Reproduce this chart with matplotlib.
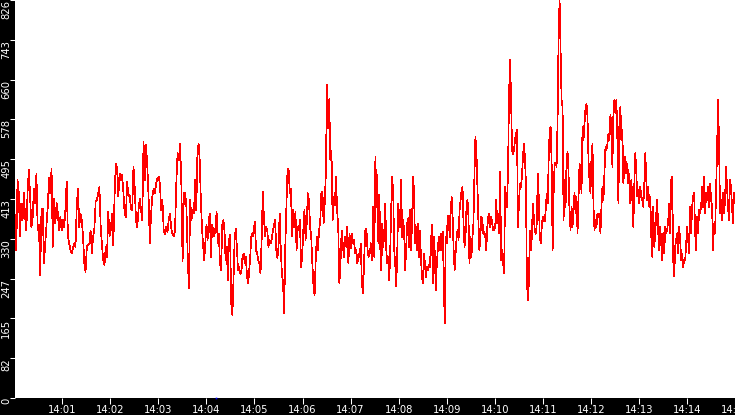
import numpy as np
import matplotlib
matplotlib.use("Agg")
import matplotlib.pyplot as plt

# readings taken off the chart, four stretches of ~225 s each (seconds after 14:00)
seg_bounds = [1, 226, 451, 676, 900]

vals_a = [380, 307, 452, 425, 335, 404, 369, 425, 376, 348, 428, 473, 418, 355, 373, 435, 404, 466, 348, 359,
          255, 390, 393, 279, 321, 359, 397, 456, 425, 476, 314, 414, 362, 404, 383, 348, 376, 348, 369, 355,
          390, 449, 335, 321, 307, 300, 310, 321, 314, 397, 435, 355, 383, 369, 335, 279, 262, 314, 317, 321,
          348, 300, 335, 352, 407, 411, 425, 438, 355, 317, 286, 276, 314, 293, 386, 335, 348, 383, 317, 418,
          487, 476, 418, 466, 452, 463, 428, 383, 376, 449, 418, 421, 393, 390, 480, 438, 369, 355, 390, 414,
          390, 369, 532, 452, 525, 480, 418, 321, 383, 418, 435, 425, 445, 456, 459, 445, 390, 411, 348, 341,
          355, 345, 369, 383, 352, 341, 335, 348, 445, 508, 494, 528, 445, 283, 425, 425, 397, 300, 227, 411,
          369, 390, 383]

vals_b = [452, 390, 511, 528, 494, 411, 355, 317, 286, 321, 359, 328, 369, 383, 293, 359, 348, 335, 355, 386,
          321, 341, 279, 265, 359, 369, 348, 286, 314, 245, 328, 338, 196, 172, 245, 328, 352, 314, 265, 272,
          258, 262, 293, 300, 279, 293, 251, 238, 265, 300, 341, 335, 348, 366, 307, 300, 286, 279, 258, 328,
          428, 376, 335, 355, 348, 314, 328, 321, 331, 348, 359, 369, 307, 290, 314, 383, 307, 258, 238, 175,
          314, 400, 476, 473, 425, 435, 335, 390, 355, 386, 307, 355, 348, 369, 272, 293, 348, 390, 328, 362,
          425, 411, 355, 335, 279, 234, 213, 286, 335, 307, 348, 366, 425, 428, 362, 404, 466, 650, 560, 620,
          494, 514, 369, 418, 400, 459, 390, 355, 238, 279, 348, 321, 293, 335, 314, 355, 279, 341, 310, 341,
          321, 328, 300, 307, 279, 300, 293, 321, 238, 217, 286, 348, 352, 307, 293, 300, 321, 286, 397, 293]

vals_c = [501, 397, 463, 321, 421, 307, 265, 362, 314, 348, 404, 307, 279, 293, 245, 307, 397, 459, 424, 307,
          279, 231, 293, 404, 376, 355, 452, 334, 369, 348, 265, 307, 362, 373, 314, 390, 307, 362, 459, 431,
          321, 355, 307, 362, 293, 348, 293, 251, 238, 300, 279, 251, 272, 265, 276, 272, 314, 359, 238, 334,
          300, 224, 279, 307, 334, 307, 341, 307, 345, 245, 155, 334, 321, 376, 379, 334, 383, 417, 376, 307,
          265, 300, 334, 348, 328, 390, 411, 431, 438, 362, 314, 334, 397, 411, 376, 279, 334, 293, 334, 362,
          459, 542, 514, 438, 369, 307, 334, 376, 369, 341, 345, 334, 307, 355, 376, 383, 355, 376, 362, 348,
          348, 355, 411, 362, 383, 341, 469, 286, 307, 279, 258, 438, 417, 397, 480, 632, 701, 625, 514, 507,
          514, 535, 549, 556, 355, 404, 445, 438, 459, 501, 528, 501, 445, 245, 203, 238, 348, 307, 334, 404,
          376, 348, 341, 362, 466, 417, 334, 321, 355, 376, 369, 366, 390, 424, 404, 494, 556, 563, 487, 307,
          424, 487]

vals_d = [487, 480, 577, 753, 826, 722, 618, 605, 369, 452, 397, 494, 511, 466, 383, 349, 397, 355, 397, 425,
          383, 418, 342, 411, 487, 466, 425, 563, 535, 570, 601, 611, 584, 494, 452, 425, 501, 528, 397, 349,
          369, 355, 383, 376, 383, 342, 397, 438, 411, 466, 521, 515, 528, 549, 535, 587, 563, 480, 591, 618,
          591, 618, 535, 404, 570, 605, 535, 556, 445, 480, 501, 466, 487, 445, 466, 404, 452, 411, 355, 445,
          508, 466, 418, 432, 404, 438, 418, 411, 397, 445, 508, 452, 411, 438, 397, 418, 335, 293, 397, 314,
          342, 383, 411, 342, 307, 355, 321, 286, 342, 300, 355, 342, 349, 369, 404, 342, 452, 459, 286, 252,
          314, 328, 342, 300, 355, 328, 286, 300, 272, 286, 286, 321, 355, 328, 300, 397, 342, 397, 418, 425,
          342, 307, 376, 342, 390, 383, 397, 438, 397, 459, 383, 425, 411, 438, 397, 445, 411, 397, 307, 362,
          342, 425, 515, 618, 528, 383, 411, 369, 425, 383, 411, 480, 438, 397, 369, 452, 438, 397, 362, 425,
          411]

event_t = [252]
event_v = [0]

tick_sec = [60, 120, 180, 240, 300, 360, 420, 480, 540, 600, 660, 720, 780, 840, 900]
tick_lbl = ["14:01", "14:02", "14:03", "14:04", "14:05", "14:06", "14:07", "14:08",
            "14:09", "14:10", "14:11", "14:12", "14:13", "14:14", "14:15"]
y_max = 826

segs = [vals_a, vals_b, vals_c, vals_d]
t_all = []
v_all = []
for i, seg in enumerate(segs):
    last = (i == len(segs) - 1)
    t_all.append(np.linspace(seg_bounds[i], seg_bounds[i + 1], len(seg), endpoint=last))
    v_all.append(np.array(seg, dtype=float))
t = np.concatenate(t_all)
v = np.concatenate(v_all)

fig = plt.figure(figsize=(7.35, 4.15), dpi=100, facecolor="black")
ax = fig.add_axes([15 / 735, 17 / 415, 720 / 735, 398 / 415])
ax.set_facecolor("white")

ax.plot(t, v, color="#ff0000", lw=0.5, antialiased=False)
ax.plot(event_t, event_v, "s", color="blue", ms=1.2, mew=0, clip_on=False)

ax.set_xlim(seg_bounds[0], seg_bounds[-1])
ax.set_ylim(0, y_max)

for s in ax.spines.values():
    s.set_visible(False)

yt = np.linspace(0, y_max, 11)
ax.set_yticks(yt)
ax.set_yticklabels([str(int(y)) for y in yt])
ax.set_xticks(tick_sec)
ax.set_xticklabels(tick_lbl)

ax.tick_params(axis="both", colors="white", width=0.75, labelsize=7.2, direction="out")
ax.tick_params(axis="y", length=3.6, pad=0.5)
ax.tick_params(axis="x", length=4.6, pad=0.3)

for lab in ax.get_yticklabels():
    lab.set_rotation(90)
    lab.set_rotation_mode("anchor")
    lab.set_ha("right")
    lab.set_va("baseline")

fig.savefig("out.png", dpi=100, facecolor="black")
